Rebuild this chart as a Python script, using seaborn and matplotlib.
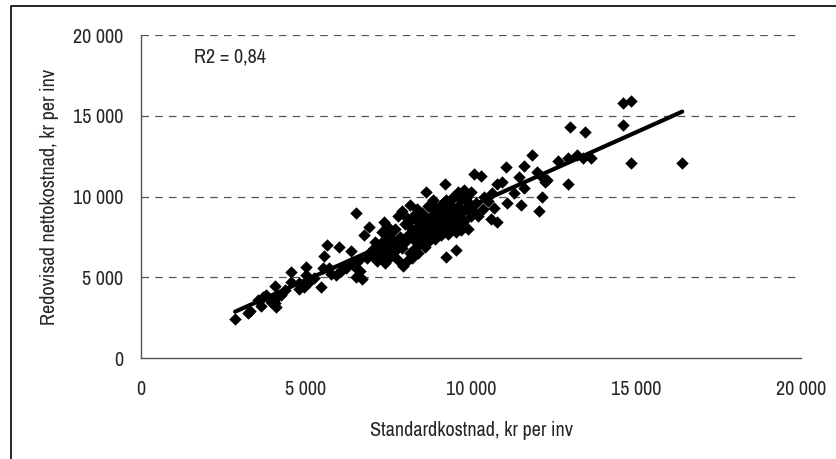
import seaborn as sns
import matplotlib.pyplot as plt
from matplotlib import font_manager
from matplotlib.ticker import FuncFormatter, MultipleLocator
from matplotlib.lines import Line2D

# Standardkostnad (x) and redovisad nettokostnad (y), kr per inv
std_cost = [
    2850, 3250, 3300, 3550, 3650, 3700, 3800, 3950, 4050, 4100, 4100, 4050, 4250, 4350,
    4550, 4550, 4800, 4800, 4950, 5000, 5000, 5100, 5250, 5450, 5500, 5550, 5650, 5700,
    5750, 5900, 6000, 6050, 6100, 6200, 6350, 6350, 6500, 6500, 6550, 6600, 6650, 6700,
    6750, 6850, 6900, 6900,
    7000, 7050, 7100, 7150, 7200, 7250, 7300, 7300, 7350, 7350, 7400, 7400, 7450, 7450,
    7500, 7500, 7550, 7600, 7650, 7700, 7700, 7750, 7800, 7800, 7850, 7900, 7900, 7950,
    8000, 8000, 8050, 8100, 8150, 8150, 8200, 8200, 8250, 8250, 8300, 8350, 8350, 8400,
    8400, 8450, 8500, 8500, 8550, 8600, 8600, 8650, 8650, 8700, 8700, 8750, 8800, 8800,
    8850, 8900, 8900, 8950, 9000, 9000, 9050, 9100, 9100, 9150, 9200, 9200, 9250, 9250,
    9300, 9300, 9350, 9400, 9400, 9450, 9500, 9500, 9550, 9550, 9600, 9600, 9650, 9700,
    9700, 9750, 9800, 9800, 9850, 9900, 9950, 10000, 10000, 10050, 10100, 10150, 10200,
    8100, 8300, 8450, 8550, 8750, 8950, 9050, 9150, 9350, 9450, 9650, 9750, 9900, 7650,
    7550, 7250, 7150, 8050, 8850, 9250, 9600, 9850,
    10300, 10350, 10400, 10500, 10600, 10650, 10700, 10800, 10800, 10950, 11050, 11100,
    11300, 11450, 11500, 11600, 11600, 11850, 12000, 12050, 12150, 12150, 12250, 12300,
    12650, 12950, 12950, 13000, 13200, 13400, 13450, 13650, 14600, 14600, 14850, 14850,
    16400,
]
net_cost = [
    2400, 2800, 2900, 3600, 3200, 3800, 3900, 3450, 3400, 3700, 3150, 4450, 3900, 4200,
    4700, 5300, 4650, 4300, 4400, 5650, 5150, 4700, 4950, 4400, 5600, 6300, 7000, 5550,
    5200, 5150, 6850, 5400, 5500, 5600, 6600, 5900, 5000, 9000, 5500, 6100, 5400, 4900,
    7600, 6200, 8100, 6500,
    6400, 6800, 7200, 6000, 6600, 7000, 7800, 6300, 8400, 7300, 6700, 5900, 7100, 8200,
    6200, 7600, 6900, 6400, 7300, 8000, 6600, 7000, 8800, 6100, 7500, 9100, 6800, 5700,
    7200, 8300, 6000, 7600, 9500, 6500, 8000, 6200, 7400, 8800, 6800, 9200, 7800, 8400,
    6500, 7100, 8000, 9000, 7500, 8600, 6900, 10300, 7800, 8200, 9400, 7300, 8800, 7800,
    9800, 8100, 7400, 8500, 9000, 7800, 8300, 9500, 7600, 8700, 10800, 8000, 6250, 9200,
    8400, 7700, 9700, 8800, 8000, 10000, 9000, 8300, 6700, 7800, 9400, 10300, 8500, 9800,
    7900, 9100, 10400, 8500, 9200, 8000, 9600, 10300, 8800, 9100, 11400, 9600, 8800,
    8400, 7900, 8900, 8100, 8600, 9300, 8700, 9600, 8900, 9300, 8900, 10100, 9400, 7200,
    7800, 6600, 6700, 8700, 9200, 9800, 8700, 9900,
    11300, 9200, 10000, 9700, 8600, 10200, 9300, 8400, 10800, 10900, 11800, 9600,
    10200, 11200, 9500, 11900, 10500, 12600, 11500, 9100, 11200, 10000, 10900, 11000,
    12200, 12400, 10800, 14300, 12600, 12400, 14000, 12400, 14400, 15800, 15900, 12100,
    12050,
]
r2_label = "R2 = 0,84"

sns.set_style("white")

# pick a narrow/condensed face if one is installed
narrow = None
for f in font_manager.fontManager.ttflist:
    if "Narrow" in f.name or "Condensed" in f.name:
        narrow = f.name
        break
stretch = "normal"
if narrow is None:
    for f in font_manager.fontManager.ttflist:
        if f.name == "DejaVu Sans" and f.stretch not in ("normal", 500):
            narrow = "DejaVu Sans"
            stretch = "condensed"
            break
families = ([narrow] if narrow else []) + ["DejaVu Sans"]
plt.rcParams["font.family"] = families
plt.rcParams["font.stretch"] = stretch

fs = 14.5

fig = plt.figure(figsize=(8.36, 4.59), dpi=100)
ax = fig.add_axes([0.1687, 0.22, 0.7895, 0.7037])

sns.regplot(x=std_cost, y=net_cost, ax=ax, ci=None, marker="D", color="black",
            scatter_kws={"s": 40, "linewidths": 0, "alpha": 1},
            line_kws={"lw": 3.0, "color": "black"})

ax.set_xlim(0, 20000)
ax.set_ylim(0, 20000)
ax.xaxis.set_major_locator(MultipleLocator(5000))
ax.yaxis.set_major_locator(MultipleLocator(5000))
fmt = FuncFormatter(lambda v, p: f"{v:,.0f}".replace(",", " "))
ax.xaxis.set_major_formatter(fmt)
ax.yaxis.set_major_formatter(fmt)

for v in [5000, 10000, 15000, 20000]:
    ax.axhline(v, color="#555555", lw=0.9, ls=(0, (6, 5)), zorder=0)

for side in ["top", "right"]:
    ax.spines[side].set_visible(False)
for side in ["left", "bottom"]:
    ax.spines[side].set_color("#555555")
    ax.spines[side].set_linewidth(1)

ax.tick_params(axis="both", direction="out", length=5, width=1, color="#555555",
               labelsize=fs, pad=8)
ax.tick_params(axis="x", pad=11)

ax.set_xlabel("Standardkostnad, kr per inv", fontsize=fs, labelpad=16)
ax.set_ylabel("Redovisad nettokostnad, kr per inv", fontsize=fs, labelpad=10)
ax.text(1600, 18650, r2_label, fontsize=fs, va="center", ha="left")

# outer frame (top and left edges)
fig.add_artist(Line2D([11 / 836, 11 / 836, 1], [0, 1 - 6 / 459, 1 - 6 / 459],
                      transform=fig.transFigure, color="black", lw=1.2))

fig.savefig("out.png", dpi=100)
